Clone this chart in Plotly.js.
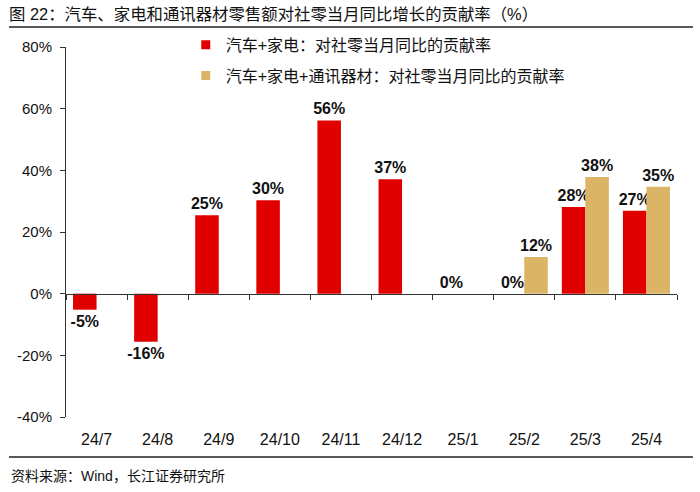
<!DOCTYPE html>
<html>
<head>
<meta charset="utf-8">
<script src="https://cdn.plot.ly/plotly-3.0.1.min.js"></script>
<style>html,body{margin:0;padding:0;background:#fff}#chart{width:700px;height:492px}</style>
</head>
<body>
<div id="chart"></div>
<script>
const categories = ['24/7','24/8','24/9','24/10','24/11','24/12','25/1','25/2','25/3','25/4'];
const autoAppliance = [-5.2, -15.6, 25.4, 30.3, 56.2, 37.1, 0, 0, 28.1, 26.9];
const autoApplianceComm = [null, null, null, null, null, null, null, 11.9, 37.8, 34.7];
const seriesNames = ['汽车+家电：对社零当月同比的贡献率', '汽车+家电+通讯器材：对社零当月同比的贡献率'];
const yTicks = [-40, -20, 0, 20, 40, 60, 80];
const yTickLabels = ['-40%', '-20%', '0%', '20%', '40%', '60%', '80%'];
const chartTitle = '图 22：汽车、家电和通讯器材零售额对社零当月同比增长的贡献率（%）';
const sourceText = '资料来源：Wind，长江证券研究所';

const FONT = 'Liberation Sans, Arial, Noto Sans CJK SC, sans-serif';
const RED = '#E10000';
const GOLD = '#DCB466';

const labelFont = {family: FONT, size: 16, color: '#111', weight: 'bold'};

const traces = [
  {
    type: 'bar', x: categories, y: autoAppliance, name: seriesNames[0],
    marker: {color: RED}, showlegend: false,
    texttemplate: '%{y:.0f}%', textposition: 'outside', cliponaxis: false,
    constraintext: 'none', textfont: labelFont, outsidetextfont: labelFont,
    hoverinfo: 'x+y'
  },
  {
    type: 'bar', x: categories, y: autoApplianceComm, name: seriesNames[1],
    marker: {color: GOLD}, showlegend: false,
    texttemplate: '%{y:.0f}%', textposition: 'outside', cliponaxis: false,
    constraintext: 'none', textfont: labelFont, outsidetextfont: labelFont,
    hoverinfo: 'x+y'
  },
  {
    type: 'scatter', mode: 'markers', x: [null], y: [null], name: seriesNames[0],
    marker: {symbol: 'square', size: 9, color: RED}, legendgroup: 'a', hoverinfo: 'skip'
  },
  {
    type: 'scatter', mode: 'markers', x: [null], y: [null], name: seriesNames[1],
    marker: {symbol: 'square', size: 9, color: GOLD}, legendgroup: 'b', hoverinfo: 'skip'
  },
  {
    type: 'scatter', x: [], y: [], xaxis: 'x2', yaxis: 'y', showlegend: false, hoverinfo: 'skip'
  }
];

const layout = {
  width: 700, height: 492,
  margin: {l: 66, r: 23, t: 47, b: 75},
  paper_bgcolor: '#fff', plot_bgcolor: '#fff',
  font: {family: FONT, color: '#111'},
  barmode: 'group', bargap: 0.23, bargroupgap: 0,
  showlegend: true,
  legend: {
    x: 0.196, xanchor: 'left', y: 1.052, yanchor: 'top',
    font: {family: FONT, size: 16, color: '#111'},
    bgcolor: 'rgba(0,0,0,0)', traceorder: 'grouped', tracegroupgap: 7,
    itemwidth: 30
  },
  title: {
    text: chartTitle, x: 9/700, xref: 'container', xanchor: 'left',
    y: 1 - 14/492, yref: 'container', yanchor: 'middle',
    font: {family: FONT, size: 16.4, color: '#111'}
  },
  xaxis: {
    type: 'category', range: [-0.5, 9.5], showline: false, showgrid: false, zeroline: false,
    ticks: 'outside', ticklen: 8, tickcolor: 'rgba(0,0,0,0)',
    tickfont: {family: FONT, size: 16, color: '#111'}, fixedrange: true
  },
  xaxis2: {
    type: 'linear', overlaying: 'x', anchor: 'free', position: 1/3,
    range: [-0.5, 9.5], tickmode: 'array', tickvals: [-0.5,0.5,1.5,2.5,3.5,4.5,5.5,6.5,7.5,8.5,9.5],
    showticklabels: false, ticks: 'outside', ticklen: 5, tickwidth: 1, tickcolor: '#333',
    showline: true, linecolor: '#333', linewidth: 1, showgrid: false, zeroline: false
  },
  yaxis: {
    range: [-40, 80], tickmode: 'array', tickvals: yTicks, ticktext: yTickLabels,
    showline: true, linecolor: '#333', linewidth: 1, ticks: 'outside', ticklen: 5, tickcolor: '#333',
    showgrid: false, zeroline: false, tickfont: {family: FONT, size: 15, color: '#111'},
    ticklabelstandoff: 5
  },
  shapes: [
    {type: 'line', xref: 'paper', yref: 'paper', x0: -0.0933, x1: 1.0262, y0: 1.054, y1: 1.054,
     line: {color: '#222', width: 1.5}},
    {type: 'line', xref: 'paper', yref: 'paper', x0: -0.0933, x1: 1.0262, y0: -0.108, y1: -0.108,
     line: {color: '#222', width: 1.5}}
  ],
  annotations: [
    {text: sourceText, xref: 'paper', yref: 'paper', x: -0.0933, y: -0.159,
     xanchor: 'left', yanchor: 'middle', showarrow: false,
     font: {family: FONT, size: 14, color: '#111'}}
  ]
};

Plotly.newPlot('chart', traces, layout, {displayModeBar: false, staticPlot: true});
</script>
</body>
</html>
